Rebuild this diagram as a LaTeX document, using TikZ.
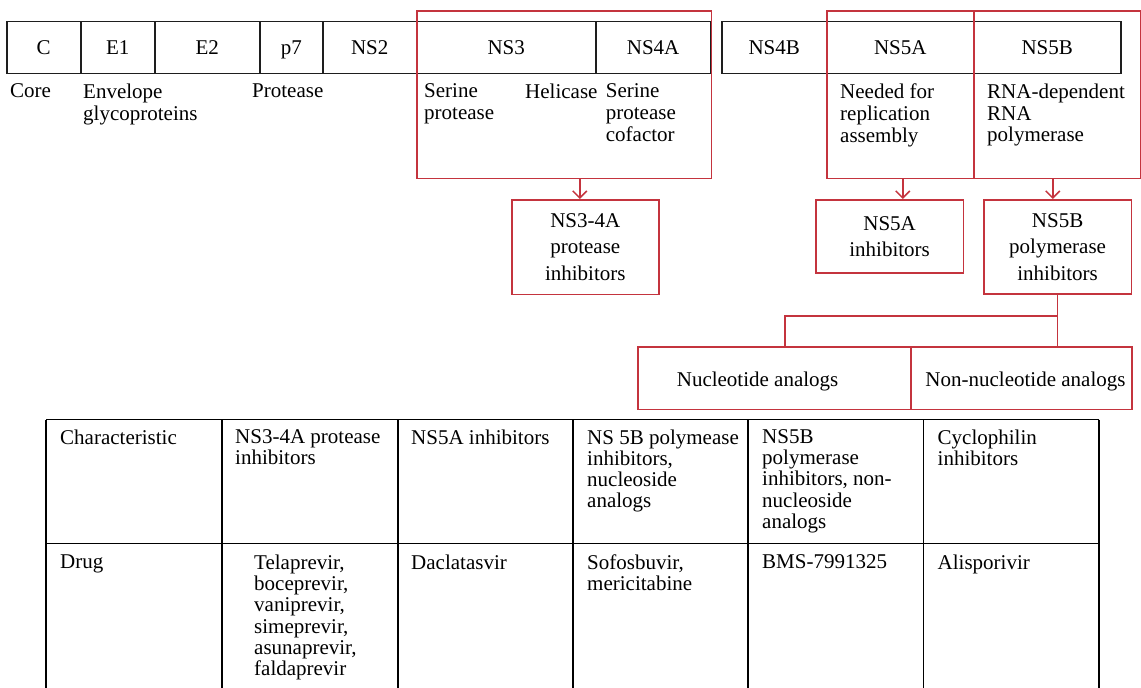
\documentclass[tikz,border=0pt]{standalone}
\usepackage{fontspec}
\setmainfont{Liberation Serif}
\usetikzlibrary{arrows.meta,calc}
\definecolor{redc}{RGB}{196,52,62}
\definecolor{barc}{RGB}{30,30,30}
\newcommand{\fnta}{\fontsize{21}{21.7}\selectfont}
\newcommand{\fntb}{\fontsize{21}{26.5}\selectfont}
\newcommand{\fntc}{\fontsize{21}{21.2}\selectfont}
\begin{document}
\begin{tikzpicture}[x=1pt,y=-1pt,
  seg/.style={draw=barc, line width=1.5pt, minimum height=52pt, inner sep=0pt, anchor=north west, text height=15pt, text depth=0pt, font=\fnta},
  redbox/.style={draw=redc, line width=1.5pt, inner sep=0pt, anchor=north west},
  inhib/.style={redbox, align=center, font=\fntb},
  lab/.style={anchor=north west, inner sep=0pt, align=left, font=\fnta},
  tcell/.style={anchor=north west, inner sep=0pt, align=left, font=\fntc},
  redline/.style={draw=redc, line width=1.5pt},
  redarrow/.style={redline, -{Straight Barb[length=7pt,width=14pt,line width=1.5pt]}},
  tline/.style={draw=black, line width=1.5pt}]
\useasboundingbox (0,0) rectangle (1141,688);

% genome bar
\node[seg, minimum width=74pt] (sc) at (6,20.7) {C};
\node[seg, minimum width=74pt] (se1) at (80,20.7) {E1};
\node[seg, minimum width=105pt] (se2) at (154,20.7) {E2};
\node[seg, minimum width=63pt] (sp7) at (259,20.7) {p7};
\node[seg, minimum width=94pt] (sns2) at (322,20.7) {NS2};
\node[seg, minimum width=179pt] (sns3) at (416,20.7) {NS3};
\node[seg, minimum width=114.7pt] (sns4a) at (595,20.7) {NS4A};
\node[seg, minimum width=105pt] (sns4b) at (721,20.7) {NS4B};
\node[seg, minimum width=147pt] (sns5a) at (826,20.7) {NS5A};
\node[seg, minimum width=147pt] (sns5b) at (973,20.7) {NS5B};

% labels under the bar
\node[lab] (lcore) at (10,83.7) {Core};
\node[lab] (lenv) at (83,83.7) {Envelope\\glycoproteins};
\node[lab] (lprot) at (252,83.7) {Protease};
\node[lab] (lser) at (424,83.7) {Serine\\protease};
\node[lab] (lhel) at (525,83.7) {Helicase};
\node[lab] (lcof) at (605.7,83.7) {Serine\\protease\\cofactor};
\node[lab] (lneed) at (840,83.7) {Needed for\\replication\\assembly};
\node[lab] (lrna) at (987,83.7) {RNA-dependent\\RNA\\polymerase};

% red target boxes
\node[redbox, minimum width=294.7pt, minimum height=167.7pt] (r1) at (416,10) {};
\node[redbox, minimum width=147pt, minimum height=167.7pt] (r2) at (826,10) {};
\node[redbox, minimum width=167pt, minimum height=167.7pt] (r3) at (973,10) {};

% inhibitor boxes
\node[inhib, minimum width=147pt, minimum height=94.7pt] (pi) at (511,199) {NS3-4A\\protease\\inhibitors};
\node[inhib, minimum width=147.7pt, minimum height=73.3pt] (n5a) at (815,199) {NS5A\\inhibitors};
\node[inhib, minimum width=147.7pt, minimum height=94.3pt] (n5b) at (983,199) {NS5B\\polymerase\\inhibitors};

% analog boxes
\node[redbox, minimum width=273pt, minimum height=62.5pt] (nuc) at (637,346) {};
\node[redbox, minimum width=221pt, minimum height=62.5pt] (nn) at (910,346) {};
\node[anchor=base, inner sep=0pt, font=\fnta] (nuct) at (757.6,386) {Nucleotide analogs};
\node[anchor=base, inner sep=0pt, font=\fnta] (nnt) at (1025.5,386) {Non-nucleotide analogs};

% arrows
\draw[redarrow] ([xshift=-5.5pt]pi.north |- r1.south) -- ([xshift=-5.5pt]pi.north);
\draw[redarrow] ([xshift=2.5pt]r2.south) -- ([xshift=2.5pt]r2.south |- n5a.north);
\draw[redarrow] ([xshift=-4.5pt]r3.south) -- ([xshift=-4.5pt]r3.south |- n5b.north);

% branch
\coordinate (br) at ($(n5b.south)+(0,21)$);
\draw[redline] (n5b.south) -- (n5b.south |- nn.north);
\draw[redline] (br) -| ([xshift=10.5pt]nuc.north);

% table
\draw[tline] (46,419.5) -- (1099,419.5);
\draw[tline] (46,543.5) -- (1099,543.5);
\foreach \xx in {46,222,398,573,748,923.6,1099} {
  \draw[tline] (\xx,419.5) -- (\xx,688);
}
\node[tcell] (t11) at (60,429.3) {Characteristic};
\node[tcell] (t12) at (235,429.3) {NS3-4A protease\\inhibitors};
\node[tcell] (t13) at (411,429.3) {NS5A inhibitors};
\node[tcell] (t14) at (587,429.3) {NS 5B polymease\\inhibitors,\\nucleoside\\analogs};
\node[tcell] (t15) at (762,429.3) {NS5B\\polymerase\\inhibitors, non-\\nucleoside\\analogs};
\node[tcell] (t16) at (937.5,429.3) {Cyclophilin\\inhibitors};
\node[tcell] (t21) at (60,554.7) {Drug};
\node[tcell] (t22) at (254,554.7) {Telaprevir,\\boceprevir,\\vaniprevir,\\simeprevir,\\asunaprevir,\\faldaprevir};
\node[tcell] (t23) at (411,554.7) {Daclatasvir};
\node[tcell] (t24) at (587,554.7) {Sofosbuvir,\\mericitabine};
\node[tcell] (t25) at (762,554.7) {BMS-7991325};
\node[tcell] (t26) at (937.5,554.7) {Alisporivir};
\end{tikzpicture}
\end{document}
